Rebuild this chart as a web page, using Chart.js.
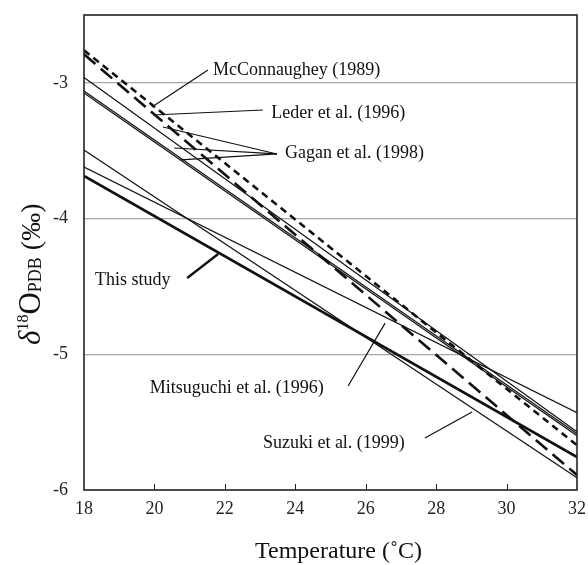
<!DOCTYPE html>
<html><head><meta charset="utf-8">
<script src="https://cdn.jsdelivr.net/npm/chart.js@4/dist/chart.umd.min.js"></script>
<style>html,body{margin:0;padding:0;background:#fff}#wrap{width:588px;height:565px}</style>
</head><body><div id="wrap"><canvas id="c" width="588" height="565"></canvas></div>
<script>
// ---- data ----
const temperatures = [18, 32];
const mcConnaughey1989 = [-2.76, -5.67];
const leder1996 = [-2.79, -5.89];
const gagan1998a = [-2.96, -5.57];
const gagan1998b = [-3.06, -5.585];
const gagan1998c = [-3.075, -5.60];
const mitsuguchi1996 = [-3.62, -5.43];
const suzuki1999 = [-3.495, -5.91];
const thisStudy = [-3.686, -5.757];
const xTickValues = [18, 20, 22, 24, 26, 28, 30, 32];
const yTickValues = [-6, -5, -4, -3];

// ---- annotation labels ----
const labelTexts = ["McConnaughey (1989)", "Leder et al. (1996)", "Gagan et al. (1998)", "This study", "Mitsuguchi et al. (1996)", "Suzuki et al. (1999)"];

const INK = '#111';
function pts(ys){ return temperatures.map((t,i)=>({x:t, y:ys[i]})); }
function ds(label, ys, width, dash){
  return {label, data: pts(ys), showLine:true, pointRadius:0, borderColor:INK, borderWidth:width, borderDash:dash||[], fill:false, tension:0};
}
const datasets = [
  ds('Gagan et al. (1998) a', gagan1998a, 1.2),
  ds('Gagan et al. (1998) b', gagan1998b, 1.2),
  ds('Gagan et al. (1998) c', gagan1998c, 1.2),
  ds('Mitsuguchi et al. (1996)', mitsuguchi1996, 1.2),
  ds('Suzuki et al. (1999)', suzuki1999, 1.2),
  ds('McConnaughey (1989)', mcConnaughey1989, 2.6, [7,5]),
  ds('Leder et al. (1996)', leder1996, 2.6, [15,7]),
  ds('This study', thisStudy, 2.6)
];

const SERIF = '"Liberation Serif", "Times New Roman", serif';
// label anchors and pointer segments, in data units [x, y]
const annotations = [
  {text: labelTexts[0], at:[21.66, -2.905], lines:[[[21.52,-2.905],[19.93,-3.178]]], w:1.2},
  {text: labelTexts[1], at:[23.32, -3.222], lines:[[[23.08,-3.2],[19.96,-3.237]]], w:1.2},
  {text: labelTexts[2], at:[23.71, -3.517], lines:[[[23.48,-3.524],[20.24,-3.325]],[[23.48,-3.524],[20.56,-3.48]],[[23.48,-3.524],[20.75,-3.568]]], w:1.2},
  {text: labelTexts[3], at:[18.31, -4.453], lines:[[[20.93,-4.438],[21.81,-4.261]]], w:2.4},
  {text: labelTexts[4], at:[19.87, -5.249], lines:[[[25.5,-5.234],[26.55,-4.77]]], w:1.2},
  {text: labelTexts[5], at:[23.08, -5.654], lines:[[[27.68,-5.617],[29.02,-5.425]]], w:1.2}
];

const decor = {
  id:'decor',
  afterDatasetsDraw(chart){
    const {ctx, chartArea:a, scales:{x, y}} = chart;
    ctx.save();
    // plot border
    ctx.strokeStyle = '#222'; ctx.lineWidth = 1.6;
    ctx.strokeRect(a.left, a.top, a.right - a.left, a.bottom - a.top);
    // inner tick marks on x axis
    ctx.lineWidth = 1;
    xTickValues.forEach(v => {
      if (v === xTickValues[0] || v === xTickValues[xTickValues.length-1]) return;
      const px = Math.round(x.getPixelForValue(v)) + 0.5;
      ctx.beginPath(); ctx.moveTo(px, a.bottom); ctx.lineTo(px, a.bottom - 6); ctx.stroke();
    });
    // annotations
    ctx.fillStyle = INK; ctx.strokeStyle = INK;
    ctx.font = '18px ' + SERIF; ctx.textBaseline = 'middle'; ctx.textAlign = 'left';
    annotations.forEach(an => {
      ctx.fillText(an.text, x.getPixelForValue(an.at[0]), y.getPixelForValue(an.at[1]));
      ctx.lineWidth = an.w;
      an.lines.forEach(seg => {
        ctx.beginPath();
        ctx.moveTo(x.getPixelForValue(seg[0][0]), y.getPixelForValue(seg[0][1]));
        ctx.lineTo(x.getPixelForValue(seg[1][0]), y.getPixelForValue(seg[1][1]));
        ctx.stroke();
      });
    });
    // x title
    ctx.font = '24px ' + SERIF; ctx.textAlign = 'center'; ctx.textBaseline = 'middle';
    ctx.fillText('Temperature (\u02DAC)', (a.left + a.right)/2 + 8, 552);
    // y title, rotated, with super/subscripts
    ctx.translate(40, 345); ctx.rotate(-Math.PI/2);
    ctx.textAlign = 'left'; ctx.textBaseline = 'alphabetic';
    let cx = 0;
    const part = (t, f, dy) => { ctx.font = f; ctx.fillText(t, cx, dy); cx += ctx.measureText(t).width; };
    part('\u03B4', 'italic 31px ' + SERIF, 0);
    part('18', '16px ' + SERIF, -12);
    part('O', '31px ' + SERIF, 0);
    part('PDB', '18px ' + SERIF, 1);
    part(' (\u2030)', '28px ' + SERIF, 0);
    ctx.restore();
  }
};

function noPad(s){ s.paddingLeft = 0; s.paddingRight = 0; s.paddingTop = 0; s.paddingBottom = 0; }

new Chart(document.getElementById('c'), {
  type:'scatter',
  data:{datasets},
  options:{
    responsive:false, animation:false, devicePixelRatio:1,
    layout:{padding:{top:15, right:11, left:0, bottom:0}},
    plugins:{legend:{display:false}, tooltip:{enabled:false}},
    scales:{
      x:{type:'linear', min:18, max:32,
        afterBuildTicks: s => { s.ticks = xTickValues.map(v => ({value:v})); },
        afterFit: s => { s.height = 75; noPad(s); },
        grid:{display:false, drawTicks:false}, border:{display:false},
        ticks:{font:{family:SERIF, size:18}, color:'#222', padding:8, maxRotation:0}
      },
      y:{type:'linear', min:-6, max:-2.5,
        afterBuildTicks: s => { s.ticks = yTickValues.map(v => ({value:v})); },
        afterFit: s => { s.width = 84; noPad(s); },
        grid:{drawTicks:false, color: c => (c.tick && c.tick.value > -6) ? '#a8a8a8' : 'rgba(0,0,0,0)', lineWidth:1.2},
        border:{display:false},
        ticks:{font:{family:SERIF, size:18}, color:'#222', padding:16}
      }
    }
  },
  plugins:[decor]
});
</script></body></html>
